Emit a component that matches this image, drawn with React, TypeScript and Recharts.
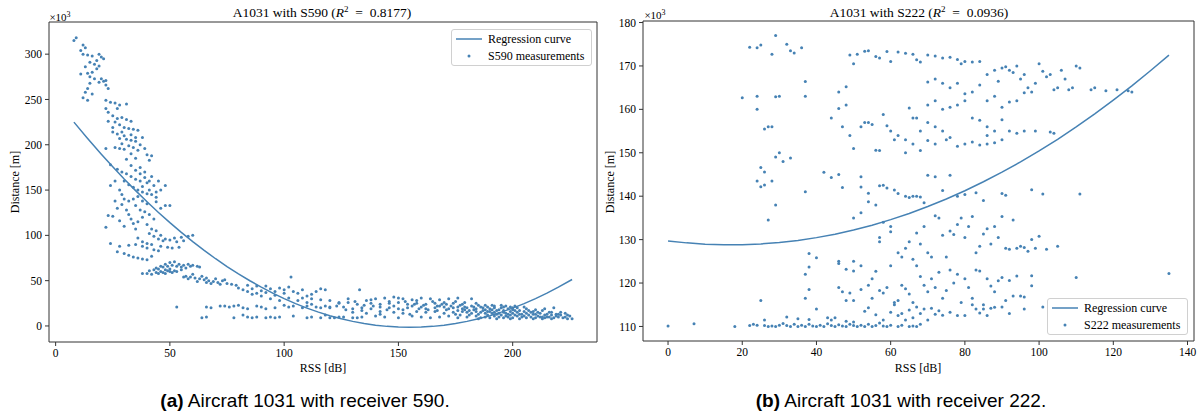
import React from 'react';
import { ScatterChart, Scatter, XAxis, YAxis, ReferenceArea } from 'recharts';

// RSS [dB], distance [x10^3 m]
const s590Steep: [number, number][] = [
  [8, 315], [9, 318], [12, 310], [13, 307], [11, 304], [12, 300], [14, 299], [16, 298], [19, 300], [20, 297],
  [21, 295], [15, 291], [17, 289], [18, 293], [19, 287], [13, 286], [18, 284], [16, 280], [11, 278], [14, 279],
  [15, 275], [20, 273], [22, 271], [17, 273], [15, 268], [19, 269], [14, 262], [13, 258], [16, 256], [12, 252],
  [14, 249], [22, 266], [21, 270], [23, 262],
  [22, 249], [24, 247], [26, 246], [28, 244], [31, 245], [27, 240], [22, 240], [23, 236], [25, 232], [27, 229],
  [29, 230], [31, 228], [33, 226], [26, 225], [28, 222], [30, 219], [32, 218], [34, 217], [36, 216], [25, 214],
  [27, 212], [30, 210], [28, 207], [31, 206], [33, 205], [35, 204], [29, 201], [32, 199], [26, 197], [28, 196],
  [30, 195], [34, 197], [36, 194], [38, 208], [40, 189], [42, 188], [41, 183], [33, 190], [35, 185],
  [22, 196], [24, 178], [27, 173], [29, 170], [31, 168], [33, 165], [35, 162], [37, 160], [26, 160], [30, 160],
  [32, 156], [34, 153], [36, 150], [38, 148], [40, 146], [42, 145], [44, 148], [46, 150], [48, 155], [45, 160],
  [42, 165], [40, 158], [36, 143], [34, 140], [32, 138], [38, 138], [40, 135], [44, 137], [46, 130], [48, 133],
  [50, 133], [24, 155], [28, 150], [30, 140], [29, 145], [37, 175], [39, 170],
  [22, 109], [23, 122], [25, 121], [27, 130], [28, 116], [30, 110], [32, 123], [34, 113], [35, 107], [36, 115],
  [38, 120], [40, 112], [42, 107], [44, 105], [46, 100], [48, 96], [50, 95], [52, 97], [55, 98], [58, 99],
  [60, 100], [53, 93], [47, 94], [45, 96], [43, 99], [41, 102],
  [24, 91], [27, 82], [30, 80], [32, 78], [34, 76], [36, 75], [38, 74], [40, 73], [42, 77], [32, 89],
  [35, 90], [38, 88], [40, 86], [43, 84], [45, 83], [46, 88], [49, 87], [51, 86], [54, 87], [56, 94], [28, 88],
  [23, 226], [25, 219], [29, 214], [33, 211], [35, 208], [37, 200], [39, 196], [31, 184], [33, 177], [35, 172],
  [37, 168], [39, 164], [41, 160], [43, 155], [38, 154], [41, 150], [44, 142], [35, 133], [37, 128], [39, 126],
  [41, 123], [43, 118], [33, 118], [31, 128], [29, 134], [26, 138], [36, 97], [38, 93], [40, 91], [42, 90],
];

const s590Knee: [number, number][] = [
  [38, 58], [40, 58], [42, 57], [44, 59], [46, 60], [48, 62], [50, 63], [52, 61], [44, 64], [46, 66],
  [48, 68], [50, 70], [52, 71], [54, 68], [56, 67], [58, 68], [60, 67], [62, 66], [63, 65], [48, 58],
  [50, 60], [55, 65], [57, 55], [59, 54], [61, 53], [63, 52], [65, 51], [67, 50], [69, 49], [71, 48],
  [73, 50], [75, 47], [77, 46], [79, 45], [62, 49], [66, 48], [70, 52], [74, 51], [60, 57], [64, 55],
  [68, 47], [72, 46], [41, 61], [43, 62], [45, 63], [47, 65], [49, 66], [51, 67], [53, 66], [55, 62],
  [57, 64], [59, 66], [45, 58], [47, 59], [49, 61], [51, 59], [53, 60], [56, 54], [58, 52], [66, 53],
  [80, 42], [82, 40], [84, 38], [86, 41], [88, 44], [90, 39], [92, 37], [94, 41], [96, 38], [98, 42],
  [100, 40], [102, 43], [104, 38], [106, 36], [108, 40], [110, 33], [112, 35], [114, 38], [116, 41], [118, 40],
  [86, 35], [90, 33], [94, 30], [98, 28], [102, 31], [106, 28], [110, 26], [103, 54], [84, 45], [88, 36],
  [92, 44], [96, 34], [100, 36], [108, 31], [112, 30], [116, 29], [120, 28], [124, 26], [128, 30], [133, 40],
  [53, 21], [66, 21], [68, 20], [72, 22], [74, 22], [76, 21], [78, 22], [80, 23], [82, 20], [84, 19],
  [88, 22], [90, 21], [92, 19], [96, 20], [100, 23], [102, 21], [104, 22], [108, 20], [110, 22], [112, 24],
  [114, 21], [116, 20], [118, 22], [120, 21],
  [64, 9], [66, 10], [78, 9], [82, 12], [84, 10], [86, 9], [88, 10], [92, 9], [94, 10], [96, 9],
  [98, 10], [104, 11], [110, 9], [112, 10], [116, 9], [118, 12], [122, 9], [126, 10], [130, 9], [134, 10],
];

const s590Tail: [number, number][] = [
  [140, 30], [144, 31], [148, 32], [150, 31], [152, 30], [156, 29], [160, 31], [164, 30], [168, 29], [172, 30],
  [176, 31], [182, 30], [136, 28], [146, 27], [158, 28],
  [124, 25], [128, 26], [132, 24], [138, 25], [142, 24], [146, 25], [150, 26], [154, 24], [158, 25], [162, 24],
  [166, 25], [170, 26], [174, 25], [178, 24], [184, 25], [188, 23], [192, 22], [196, 21], [200, 20],
  [120, 20], [126, 21], [130, 19], [134, 20], [138, 19], [142, 21], [146, 20], [150, 19], [154, 20], [156, 22],
  [160, 21], [162, 19], [166, 20], [168, 22], [170, 21], [172, 19], [174, 20], [176, 21], [178, 19], [180, 20],
  [182, 22], [184, 19], [186, 21], [188, 18], [190, 19], [192, 20], [194, 18], [196, 17], [198, 19], [200, 18],
  [202, 20], [206, 19], [210, 18], [214, 19], [218, 20],
  [130, 15], [136, 14], [142, 16], [148, 15], [152, 14], [158, 16], [162, 15], [166, 16], [170, 14], [174, 15],
  [176, 17], [178, 16], [180, 15], [182, 14], [184, 16], [186, 15], [188, 14], [190, 16], [192, 15], [194, 14],
  [196, 15], [198, 13], [200, 14], [202, 15], [204, 13], [206, 14], [208, 15], [210, 13], [212, 14], [214, 12],
  [216, 15], [220, 13], [224, 12],
  [120, 9], [124, 10], [132, 9], [140, 11], [144, 10], [150, 9], [156, 11], [160, 10], [164, 9], [168, 10],
  [172, 11], [176, 9], [180, 10], [184, 11], [186, 9], [188, 10], [190, 9], [192, 11], [194, 10], [196, 9],
  [198, 10], [200, 9], [202, 11], [204, 10], [206, 9], [208, 10], [210, 9], [212, 10], [214, 9], [216, 10],
  [218, 9], [220, 10], [222, 9], [224, 8], [226, 8],
  [161, 23], [165, 27], [169, 24], [173, 22], [177, 23], [179, 18], [181, 17], [183, 21], [185, 13], [187, 17],
  [189, 12], [191, 14], [193, 17], [195, 12], [197, 11], [199, 16], [201, 12], [203, 17], [205, 11], [207, 12],
  [209, 16], [211, 11], [213, 17], [215, 10], [217, 12], [219, 11], [221, 15], [223, 10], [185, 8], [193, 8],
  [199, 8], [203, 8], [209, 8], [213, 8], [217, 8], [148, 22], [152, 18], [138, 29], [142, 13], [134, 17],
];

const s590Band: [number, number][] = [
  [163, 18], [167, 17], [171, 18], [175, 13], [177, 12], [179, 21], [181, 12], [183, 18], [185, 23], [187, 20],
  [189, 16], [191, 18], [193, 13], [195, 20], [197, 14], [199, 12], [201, 17], [203, 13], [205, 16], [207, 17],
  [209, 13], [211, 15], [213, 10], [215, 13], [217, 15], [219, 13], [221, 12], [223, 14], [225, 11], [189, 21],
  [191, 23], [195, 23], [197, 22], [199, 21], [201, 22], [205, 21], [155, 13], [159, 19], [145, 18], [139, 22],
  [135, 23], [131, 27], [127, 18], [123, 22], [153, 27], [157, 24], [167, 22], [171, 24], [175, 27], [179, 26],
];

const s590Curve: [number, number][] = [
  [8, 225], [14, 206.9], [20, 189.5], [25, 175.6], [30, 162.2], [35, 149.4], [40, 137.1], [45, 125.3], [50, 114],
  [55, 103.3], [60, 93.1], [65, 83.4], [70, 74.2], [75, 65.6], [80, 57.5], [85, 49.9], [90, 42.8], [95, 36.2],
  [100, 30.2], [105, 24.7], [110, 19.7], [115, 15.3], [120, 11.3], [125, 7.9], [130, 5.05], [135, 2.7], [140, 0.86],
  [145, -0.45], [150, -1.24], [155, -1.5], [160, -1.24], [165, -0.45], [170, 0.86], [175, 2.7], [180, 5.05],
  [185, 7.9], [190, 11.3], [195, 15.3], [200, 19.7], [205, 24.7], [210, 30.2], [215, 36.2], [220, 42.8], [226, 51.3],
];

const s222Upper: [number, number][] = [
  [22, 174.3], [24, 174.2], [25, 174.8], [29, 177], [32, 175], [33, 173.5], [34, 173], [36, 174.2], [28, 172.7],
  [20, 162.7], [24, 163], [24, 160], [26, 155.5], [27, 156], [28, 156], [29, 162.9], [30, 163], [37, 163], [37, 166.4],
  [44, 158], [46, 160.2], [47, 156], [48, 161], [49, 154], [50, 151], [52, 156], [53, 157], [54, 157], [55, 156.5],
  [56, 150.6], [57, 150.5], [58, 158.8], [59, 156.2], [60, 155], [61, 153], [62, 154], [64, 150], [65, 160.3], [66, 158],
  [67, 158], [68, 155], [46, 164], [48, 165.2], [50, 170.5], [49, 172.5], [51, 172.7], [53, 173.4], [54, 173.5], [56, 172.2],
  [57, 171.8], [59, 173.3], [60, 171], [62, 173.2], [64, 172.9], [66, 172.7], [68, 170.9], [67, 171.4],
  [70, 172.5], [72, 172.3], [74, 171.8], [76, 172], [78, 171.5], [79, 170.5], [80, 171], [82, 170.9], [84, 171], [86, 168],
  [88, 169], [89, 166.5], [90, 169.5], [91, 169.8], [92, 169], [93, 168.5], [94, 170], [95, 167], [96, 168], [97, 165],
  [98, 164], [99, 166], [100, 170.5], [101, 168.8], [102, 167.5], [103, 168], [104, 164.5], [105, 165], [106, 169], [107, 167],
  [108, 164.5], [109, 165], [110, 170], [111, 169.5], [114, 164.5], [115, 165], [118, 164.3], [121, 164.5], [124, 164.3], [125, 164],
  [70, 166.3], [72, 167], [74, 166], [76, 165], [78, 166], [80, 163.6], [82, 164], [84, 165.6], [86, 162], [88, 163],
  [90, 160.5], [92, 161.7], [94, 162], [96, 163.8], [70, 161], [72, 162], [74, 160], [76, 160.5], [78, 161], [80, 162],
  [82, 158], [84, 157.5], [86, 156], [88, 155], [90, 157.6], [92, 155], [94, 154.5], [96, 155],
  [70, 157], [72, 156], [74, 155], [75, 153], [76, 153.5], [78, 151.5], [80, 152], [82, 152.5], [84, 151.8], [86, 152],
  [88, 152.3], [90, 153], [70, 152.8], [72, 152], [68, 150.5], [66, 152], [64, 153], [86, 154], [103, 154.8], [104, 154.5], [99, 155],
];

const s222Middle: [number, number][] = [
  [24, 143.5], [25, 142.2], [26, 142.6], [25, 146.6], [26, 145.6], [28, 143.5], [29, 149], [30, 150], [31, 148], [33, 148.8],
  [29, 138], [27, 134.5], [37, 141], [42, 145.5], [44, 144.3], [46, 145], [47, 142], [52, 144.5], [52, 142.1], [54, 140.7],
  [57, 142.4], [58, 142.5], [59, 141.9], [61, 141.4], [62, 140.6], [64, 140], [65, 139.7], [66, 140], [67, 140], [68, 139.8],
  [69, 138.5], [70, 144.8], [72, 144.5], [74, 141.3], [76, 144.8], [78, 140], [80, 140.4], [83, 140.8], [85, 139], [90, 140.6],
  [91, 140.2], [98, 141.5], [101, 140.5], [111, 140.5],
  [50, 135], [52, 136.2], [54, 138.7], [56, 138], [58, 134], [60, 133], [57, 129.5], [57, 130.5], [60, 131.8], [62, 127],
  [63, 126], [64, 128], [65, 129.5], [66, 125.5], [67, 131.5], [68, 129], [69, 133], [70, 127], [71, 126], [72, 135.5],
  [73, 135], [74, 131], [75, 126], [76, 132], [77, 131.2], [78, 133.5], [79, 135], [80, 130.5], [81, 133], [82, 135.3],
  [83, 127], [84, 128.5], [85, 131.3], [86, 132.5], [87, 129], [88, 133], [89, 130.5], [90, 135.3], [91, 128], [92, 127.8],
  [93, 134.5], [94, 128], [95, 128.5], [96, 128.2], [97, 127.3], [98, 130], [99, 128], [100, 130.8], [102, 127.8], [105, 128.5],
];

const s222Lower: [number, number][] = [
  [40, 125.8], [38, 126.8], [38, 123.7], [46, 125], [46, 124.5], [48, 123.2], [50, 122.8], [50, 125], [52, 124], [54, 119.5],
  [55, 121], [56, 122.7], [57, 118.3], [58, 117.7], [59, 119], [60, 124], [61, 115], [62, 116], [63, 119.5], [64, 118.7],
  [65, 117.5], [66, 115.5], [67, 124], [68, 121.5], [69, 119.5], [70, 118], [71, 121], [72, 119], [73, 122.5], [74, 116.5],
  [75, 118.3], [76, 123], [77, 120], [78, 122], [79, 115.5], [80, 121], [81, 119], [82, 116.5], [83, 123], [84, 122.8],
  [85, 114], [86, 121], [87, 119.3], [88, 118], [89, 120.5], [90, 121.3], [91, 116], [92, 120.6], [93, 117], [94, 121.6],
  [95, 117], [96, 116.8], [98, 121.7], [98, 119.4], [110, 121.3], [135, 122.2],
  [46, 119], [47, 118], [48, 116], [49, 117.7], [50, 116], [52, 118.5], [53, 113.5], [54, 114.3], [55, 116.5], [56, 112.7],
  [58, 111.5], [60, 113.3], [61, 115.5], [62, 112.5], [63, 113], [64, 111.5], [65, 113.8], [66, 112], [67, 114.5], [68, 113],
  [69, 114], [70, 111.5], [71, 114.2], [72, 112.8], [73, 113.6], [74, 112.6], [76, 113.3], [78, 112.5], [80, 112.5], [82, 115],
  [83, 114], [84, 113.1], [85, 115], [86, 112.5], [87, 114.2], [88, 114.4], [90, 114.5], [92, 113], [96, 114], [101, 114.5],
  [25, 116], [37, 116.5], [38, 118.5], [37, 122], [40, 114],
];

const s222Floor: [number, number][] = [
  [0, 110.1], [7, 110.6], [18, 110], [22, 110.2], [23, 110.5], [24, 110.3], [26, 110.2], [27, 110], [28, 110.1], [29, 110],
  [30, 110.3], [31, 110.7], [32, 110.2], [33, 110], [34, 110.5], [35, 110], [36, 110.3], [37, 110], [38, 110.5], [39, 110.1],
  [40, 110], [41, 110.3], [42, 110], [43, 110.6], [44, 110.2], [45, 110], [46, 110.4], [47, 110.1], [48, 110], [49, 110.5],
  [50, 110.2], [51, 110], [52, 110.3], [53, 110], [54, 110.5], [55, 110], [56, 110.2], [57, 110.8], [58, 110.1], [59, 110],
  [60, 110.3], [62, 110], [63, 110.3], [65, 110], [66, 110.1], [67, 110], [68, 110.5],
  [26, 111.5], [32, 112.2], [35, 111.8], [38, 111.6], [43, 112], [44, 111.5], [45, 112], [48, 111.2], [50, 111],
];

const s222Curve: [number, number][] = [
  [0, 129.7], [5, 129.25], [10, 128.95], [15, 128.81], [20, 128.83], [25, 129.0], [30, 129.33], [35, 129.82],
  [40, 130.46], [45, 131.26], [50, 132.22], [55, 133.33], [60, 134.6], [65, 136.03], [70, 137.62], [75, 139.36],
  [80, 141.26], [85, 143.32], [90, 145.53], [95, 147.9], [100, 150.43], [105, 153.1], [110, 155.96], [115, 158.96],
  [120, 162.11], [125, 165.4], [130, 168.9], [135, 172.5],
];

const leftXTicks = [0, 50, 100, 150, 200];
const leftYTicks = [0, 50, 100, 150, 200, 250, 300];
const rightXTicks = [0, 20, 40, 60, 80, 100, 120, 140];
const rightYTicks = [110, 120, 130, 140, 150, 160, 170, 180];

const BLUE = '#4682b4';
const SERIF = '"Liberation Serif", "DejaVu Serif", serif';
const SANS = '"Liberation Sans", Arial, sans-serif';

const toPoints = (rows: [number, number][]) => rows.map(([x, y]) => ({ x, y }));

const Dot = (props: any) => <circle cx={props.cx} cy={props.cy} r={1.5} fill={BLUE} />;
const NoDot = () => <g />;

const tickStyle = { fontFamily: SERIF, fontSize: 11.5, fill: '#000' };

interface PanelProps {
  left: number;
  margin: { top: number; right: number; bottom: number; left: number };
  xDomain: [number, number];
  yDomain: [number, number];
  xTicks: number[];
  yTicks: number[];
  points: [number, number][];
  curve: [number, number][];
}

const Panel: React.FC<PanelProps> = ({ left, margin, xDomain, yDomain, xTicks, yTicks, points, curve }) => (
  <div style={{ position: 'absolute', left, top: 0 }}>
    <ScatterChart width={600} height={390} margin={margin}>
      <XAxis
        type="number"
        dataKey="x"
        domain={xDomain}
        ticks={xTicks}
        interval={0}
        height={30}
        axisLine={false}
        tickLine={{ stroke: '#333' }}
        tickSize={4}
        tickMargin={3}
        tick={tickStyle}
        allowDataOverflow
      />
      <YAxis
        type="number"
        dataKey="y"
        domain={yDomain}
        ticks={yTicks}
        interval={0}
        width={40}
        axisLine={false}
        tickLine={{ stroke: '#333' }}
        tickSize={4}
        tickMargin={3}
        tick={tickStyle}
        allowDataOverflow
      />
      <ReferenceArea x1={xDomain[0]} x2={xDomain[1]} y1={yDomain[0]} y2={yDomain[1]} fill="none" stroke="#333" strokeWidth={1} />
      <Scatter data={toPoints(points)} shape={Dot} isAnimationActive={false} />
      <Scatter
        data={toPoints(curve)}
        shape={NoDot}
        line={{ stroke: BLUE, strokeWidth: 1.5 }}
        lineType="joint"
        isAnimationActive={false}
      />
    </ScatterChart>
  </div>
);

const LegendBox: React.FC<{ left: number; top: number; label: string }> = ({ left, top, label }) => (
  <div
    style={{
      position: 'absolute', left, top, width: 141, height: 37, boxSizing: 'border-box',
      border: '1px solid #d0d0d0', borderRadius: 3, background: 'rgba(255,255,255,0.85)',
      fontFamily: SERIF, fontSize: 12,
    }}
  >
    <svg width={30} height={37} style={{ position: 'absolute', left: 2, top: 0 }}>
      <line x1={2} x2={28} y1={9} y2={9} stroke={BLUE} strokeWidth={1.5} />
      <circle cx={15} cy={26} r={1.5} fill={BLUE} />
    </svg>
    <div style={{ position: 'absolute', left: 36, top: 1, lineHeight: '16px' }}>Regression curve</div>
    <div style={{ position: 'absolute', left: 36, top: 18, lineHeight: '16px' }}>{label}</div>
  </div>
);

const Text: React.FC<{ cx: number; cy: number; size?: number; rotate?: boolean; children: React.ReactNode }> = ({ cx, cy, size = 12, rotate, children }) => (
  <div
    style={{
      position: 'absolute', left: cx, top: cy, transform: `translate(-50%, -50%)${rotate ? ' rotate(-90deg)' : ''}`,
      whiteSpace: 'nowrap', fontFamily: SERIF, fontSize: size, lineHeight: 1, color: '#000',
    }}
  >
    {children}
  </div>
);

const Caption: React.FC<{ cx: number; tag: string; text: string }> = ({ cx, tag, text }) => (
  <div
    style={{
      position: 'absolute', left: cx, top: 391, transform: 'translateX(-50%)', whiteSpace: 'nowrap',
      fontFamily: SANS, fontSize: 19, lineHeight: '20px', color: '#000',
    }}
  >
    <b>{tag}</b> {text}
  </div>
);

const App: React.FC = () => (
  <div style={{ position: 'absolute', left: 0, top: 0, width: 1198, height: 419, background: '#fff', overflow: 'hidden' }}>
    <Panel
      left={0}
      margin={{ top: 22, right: 3, bottom: 18, left: 9 }}
      xDomain={[-2.9, 236.9]}
      yDomain={[-17.7, 335.5]}
      xTicks={leftXTicks}
      yTicks={leftYTicks}
      points={[...s590Steep, ...s590Knee, ...s590Tail, ...s590Band]}
      curve={s590Curve}
    />
    <Panel
      left={598}
      margin={{ top: 21, right: 4, bottom: 19, left: 5 }}
      xDomain={[-6.75, 141.75]}
      yDomain={[106.65, 180.35]}
      xTicks={rightXTicks}
      yTicks={rightYTicks}
      points={[...s222Upper, ...s222Middle, ...s222Lower, ...s222Floor]}
      curve={s222Curve}
    />

    <Text cx={322} cy={12} size={13.5}>A1031 with S590 (<i>R</i><sup style={{ fontSize: 9 }}>2</sup>{'\u2002=\u2002'}0.8177)</Text>
    <Text cx={919} cy={12} size={13.5}>A1031 with S222 (<i>R</i><sup style={{ fontSize: 9 }}>2</sup>{'\u2002=\u2002'}0.0936)</Text>

    <Text cx={60} cy={17} size={11}>×10<sup style={{ fontSize: 8 }}>3</sup></Text>
    <Text cx={655} cy={15} size={11}>×10<sup style={{ fontSize: 8 }}>3</sup></Text>

    <Text cx={15} cy={182} rotate>Distance [m]</Text>
    <Text cx={610} cy={182} rotate>Distance [m]</Text>

    <Text cx={323} cy={368}>RSS [dB]</Text>
    <Text cx={918} cy={368}>RSS [dB]</Text>

    <LegendBox left={451} top={29} label="S590 measurements" />
    <LegendBox left={1047} top={298} label="S222 measurements" />

    <Caption cx={305} tag="(a)" text="Aircraft 1031 with receiver 590." />
    <Caption cx={901} tag="(b)" text="Aircraft 1031 with receiver 222." />
  </div>
);

export default App;
